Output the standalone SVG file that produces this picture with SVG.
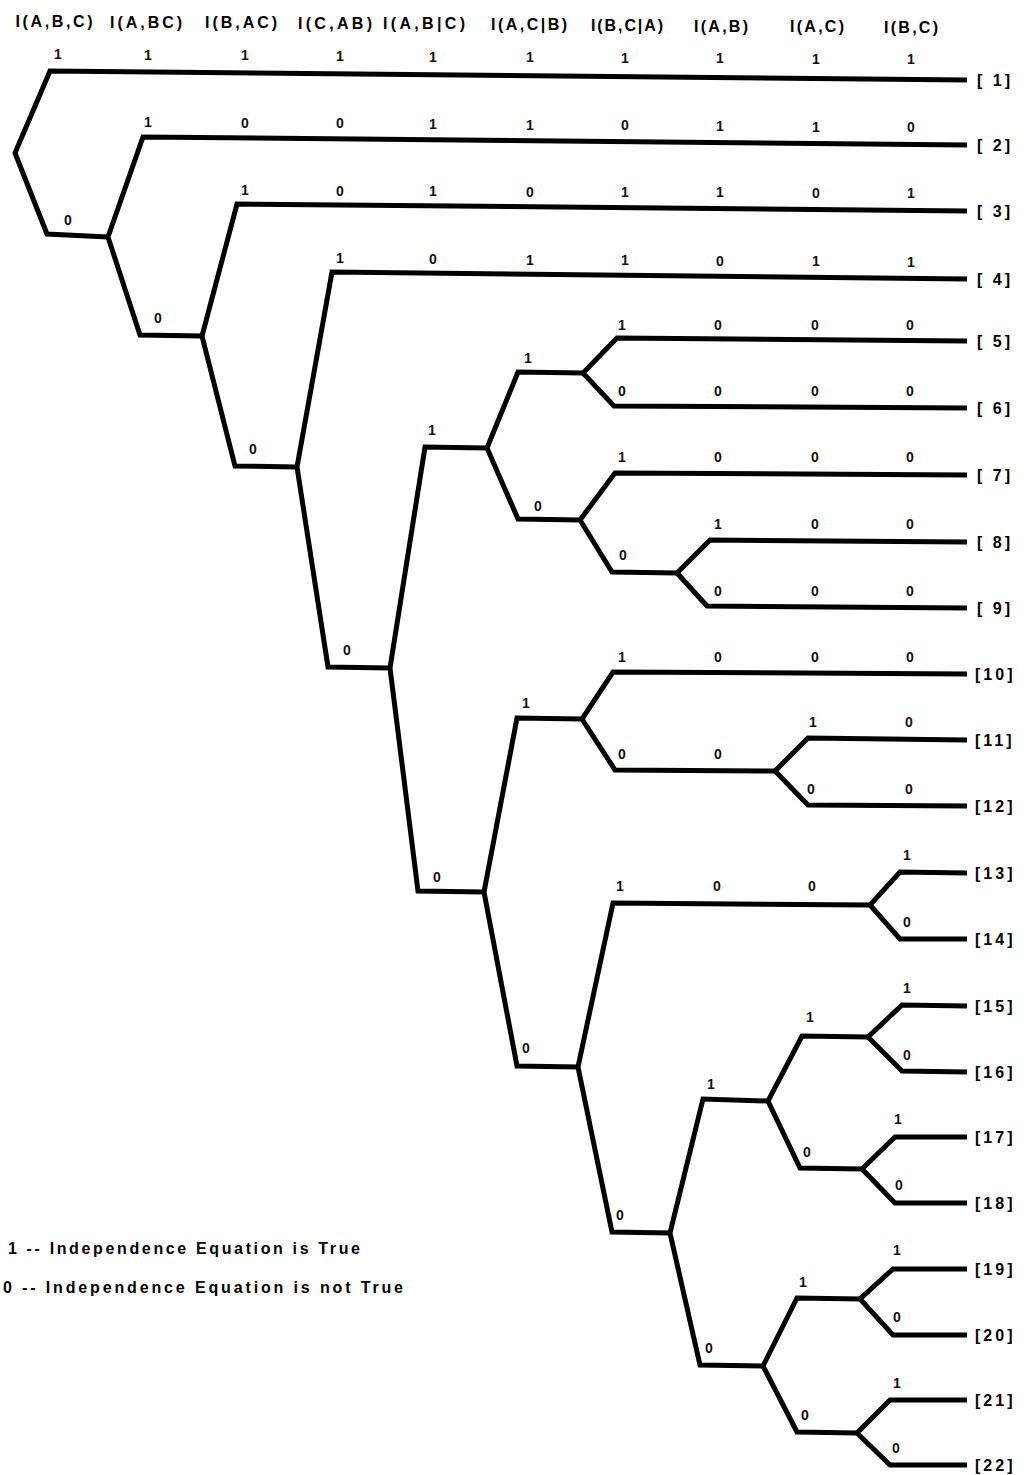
<svg xmlns="http://www.w3.org/2000/svg" width="1032" height="1475" viewBox="0 0 1032 1475">
<style>
.bg{fill:#fff}
.e{fill:none;stroke:#000;stroke-width:5;stroke-linejoin:miter;stroke-linecap:butt}
.h{font-family:"Liberation Sans",Arial,sans-serif;font-size:16px;font-weight:bold;fill:#000;text-anchor:middle}
.v{font-family:"Liberation Sans",Arial,sans-serif;font-size:14px;font-weight:bold;fill:#111;text-anchor:middle}
.lf{font-family:"Liberation Sans",Arial,sans-serif;font-size:16px;font-weight:bold;fill:#000;letter-spacing:3px}
.lg{font-family:"Liberation Sans",Arial,sans-serif;font-size:16px;font-weight:bold;fill:#000}
</style>
<rect class="bg" x="0" y="0" width="1032" height="1475"/>
<g id="header">
<text class="h" x="54" y="27" textLength="77" lengthAdjust="spacing">I(A,B,C)</text>
<text class="h" x="146" y="28" textLength="72" lengthAdjust="spacing">I(A,BC)</text>
<text class="h" x="241" y="28" textLength="72" lengthAdjust="spacing">I(B,AC)</text>
<text class="h" x="335" y="29" textLength="74" lengthAdjust="spacing">I(C,AB)</text>
<text class="h" x="424" y="29" textLength="82" lengthAdjust="spacing">I(A,B|C)</text>
<text class="h" x="529" y="30" textLength="76" lengthAdjust="spacing">I(A,C|B)</text>
<text class="h" x="627" y="31" textLength="72" lengthAdjust="spacing">I(B,C|A)</text>
<text class="h" x="721" y="32" textLength="54" lengthAdjust="spacing">I(A,B)</text>
<text class="h" x="817" y="32" textLength="54" lengthAdjust="spacing">I(A,C)</text>
<text class="h" x="911" y="33" textLength="54" lengthAdjust="spacing">I(B,C)</text>
</g>
<g id="connectors">
<path class="e" d="M967,80 L50,71 L15,153 L47,234 L108,237"/>
<path class="e" d="M967,145 L143,137 L108,237 L140,335 L202,336"/>
<path class="e" d="M967,211 L237,204 L202,336 L235,466 L297,467"/>
<path class="e" d="M967,279 L332,272 L297,467 L328,667 L390,668"/>
<path class="e" d="M487,448 L425,447 L390,668 L418,891 L484,892"/>
<path class="e" d="M583,373 L518,372 L487,448 L518,519 L580,520"/>
<path class="e" d="M967,341 L617,338 L583,373 L614,406 L967,408"/>
<path class="e" d="M967,475 L615,473 L580,520 L612,572 L677,573"/>
<path class="e" d="M967,542 L710,540 L677,573 L707,606 L967,608"/>
<path class="e" d="M582,719 L517,718 L484,892 L517,1066 L578,1067"/>
<path class="e" d="M967,674 L613,672 L582,719 L615,770 L775,771"/>
<path class="e" d="M967,740 L808,738 L775,771 L808,805 L967,806"/>
<path class="e" d="M870,905 L613,903 L578,1067 L612,1232 L670,1233"/>
<path class="e" d="M967,873 L900,872 L870,905 L900,939 L967,939"/>
<path class="e" d="M768,1101 L703,1099 L670,1233 L700,1365 L763,1366"/>
<path class="e" d="M868,1037 L802,1036 L768,1101 L800,1168 L862,1169"/>
<path class="e" d="M967,1006 L902,1005 L868,1037 L902,1071 L967,1072"/>
<path class="e" d="M967,1137 L895,1137 L862,1169 L895,1203 L967,1203"/>
<path class="e" d="M860,1299 L797,1298 L763,1366 L797,1432 L857,1433"/>
<path class="e" d="M967,1269 L893,1269 L860,1299 L893,1335 L967,1335"/>
<path class="e" d="M967,1400 L890,1400 L857,1433 L890,1465 L967,1465"/>
</g>
<g id="values">
<text class="v" x="58" y="59">1</text><text class="v" x="148" y="59.5">1</text><text class="v" x="245" y="60">1</text><text class="v" x="340" y="61">1</text><text class="v" x="433" y="61.5">1</text><text class="v" x="530" y="62">1</text><text class="v" x="625" y="62.5">1</text><text class="v" x="720" y="63">1</text><text class="v" x="816" y="63.5">1</text><text class="v" x="911" y="64">1</text>
<text class="v" x="148" y="127">1</text><text class="v" x="245" y="127.5">0</text><text class="v" x="340" y="128">0</text><text class="v" x="433" y="129">1</text><text class="v" x="530" y="129.5">1</text><text class="v" x="625" y="130">0</text><text class="v" x="720" y="131">1</text><text class="v" x="816" y="131.5">1</text><text class="v" x="911" y="132">0</text>
<text class="v" x="245" y="195">1</text><text class="v" x="340" y="195.5">0</text><text class="v" x="433" y="196">1</text><text class="v" x="530" y="196.5">0</text><text class="v" x="625" y="197">1</text><text class="v" x="720" y="197">1</text><text class="v" x="816" y="197.5">0</text><text class="v" x="911" y="198">1</text>
<text class="v" x="340" y="263">1</text><text class="v" x="433" y="263.5">0</text><text class="v" x="530" y="264.5">1</text><text class="v" x="625" y="265">1</text><text class="v" x="720" y="265.5">0</text><text class="v" x="816" y="266">1</text><text class="v" x="911" y="267">1</text>
<text class="v" x="622" y="330">1</text><text class="v" x="718" y="330">0</text><text class="v" x="815" y="330">0</text><text class="v" x="910" y="330">0</text>
<text class="v" x="622" y="396">0</text><text class="v" x="718" y="396">0</text><text class="v" x="815" y="396">0</text><text class="v" x="910" y="396">0</text>
<text class="v" x="622" y="462">1</text><text class="v" x="718" y="462">0</text><text class="v" x="815" y="462">0</text><text class="v" x="910" y="462">0</text>
<text class="v" x="718" y="529">1</text><text class="v" x="815" y="529">0</text><text class="v" x="910" y="529">0</text>
<text class="v" x="718" y="596">0</text><text class="v" x="815" y="596">0</text><text class="v" x="910" y="596">0</text>
<text class="v" x="622" y="662">1</text><text class="v" x="718" y="662">0</text><text class="v" x="815" y="662">0</text><text class="v" x="910" y="662">0</text>
<text class="v" x="622" y="759">0</text><text class="v" x="718" y="759">0</text>
<text class="v" x="813" y="727">1</text><text class="v" x="909" y="727">0</text>
<text class="v" x="811" y="794">0</text><text class="v" x="909" y="794">0</text>
<text class="v" x="620" y="891">1</text><text class="v" x="717" y="891">0</text><text class="v" x="812" y="891">0</text>
<text class="v" x="907" y="860">1</text>
<text class="v" x="907" y="927">0</text>
<text class="v" x="68" y="225">0</text>
<text class="v" x="158" y="323">0</text>
<text class="v" x="253" y="454">0</text>
<text class="v" x="347" y="655">0</text>
<text class="v" x="432" y="435">1</text>
<text class="v" x="437" y="882">0</text>
<text class="v" x="528" y="363">1</text>
<text class="v" x="538" y="511">0</text>
<text class="v" x="623" y="560">0</text>
<text class="v" x="526" y="708">1</text>
<text class="v" x="526" y="1053">0</text>
<text class="v" x="620" y="1220">0</text>
<text class="v" x="711" y="1089">1</text>
<text class="v" x="810" y="1022">1</text>
<text class="v" x="907" y="993">1</text>
<text class="v" x="907" y="1060">0</text>
<text class="v" x="807" y="1157">0</text>
<text class="v" x="898" y="1124">1</text>
<text class="v" x="899" y="1190">0</text>
<text class="v" x="709" y="1353">0</text>
<text class="v" x="803" y="1287">1</text>
<text class="v" x="897" y="1255">1</text>
<text class="v" x="897" y="1322">0</text>
<text class="v" x="805" y="1420">0</text>
<text class="v" x="897" y="1388">1</text>
<text class="v" x="896" y="1453">0</text>
</g>
<g id="leaf-1"><text class="lf" x="977" y="86">[ 1]</text></g>
<g id="leaf-2"><text class="lf" x="977" y="151">[ 2]</text></g>
<g id="leaf-3"><text class="lf" x="977" y="217">[ 3]</text></g>
<g id="leaf-4"><text class="lf" x="977" y="285">[ 4]</text></g>
<g id="leaf-5"><text class="lf" x="977" y="347">[ 5]</text></g>
<g id="leaf-6"><text class="lf" x="977" y="414">[ 6]</text></g>
<g id="leaf-7"><text class="lf" x="977" y="481">[ 7]</text></g>
<g id="leaf-8"><text class="lf" x="977" y="548">[ 8]</text></g>
<g id="leaf-9"><text class="lf" x="977" y="614">[ 9]</text></g>
<g id="leaf-10"><text class="lf" x="975" y="680">[10]</text></g>
<g id="leaf-11"><text class="lf" x="975" y="746">[11]</text></g>
<g id="leaf-12"><text class="lf" x="975" y="812">[12]</text></g>
<g id="leaf-13"><text class="lf" x="975" y="879">[13]</text></g>
<g id="leaf-14"><text class="lf" x="975" y="945">[14]</text></g>
<g id="leaf-15"><text class="lf" x="975" y="1012">[15]</text></g>
<g id="leaf-16"><text class="lf" x="975" y="1078">[16]</text></g>
<g id="leaf-17"><text class="lf" x="975" y="1143">[17]</text></g>
<g id="leaf-18"><text class="lf" x="975" y="1209">[18]</text></g>
<g id="leaf-19"><text class="lf" x="975" y="1275">[19]</text></g>
<g id="leaf-20"><text class="lf" x="975" y="1341">[20]</text></g>
<g id="leaf-21"><text class="lf" x="975" y="1406">[21]</text></g>
<g id="leaf-22"><text class="lf" x="975" y="1471">[22]</text></g>
<g id="legend">
<text class="lg" x="8" y="1254" textLength="352" lengthAdjust="spacing">1 -- Independence Equation is True</text>
<text class="lg" x="3" y="1293" textLength="400" lengthAdjust="spacing">0 -- Independence Equation is not True</text>
</g>
</svg>
